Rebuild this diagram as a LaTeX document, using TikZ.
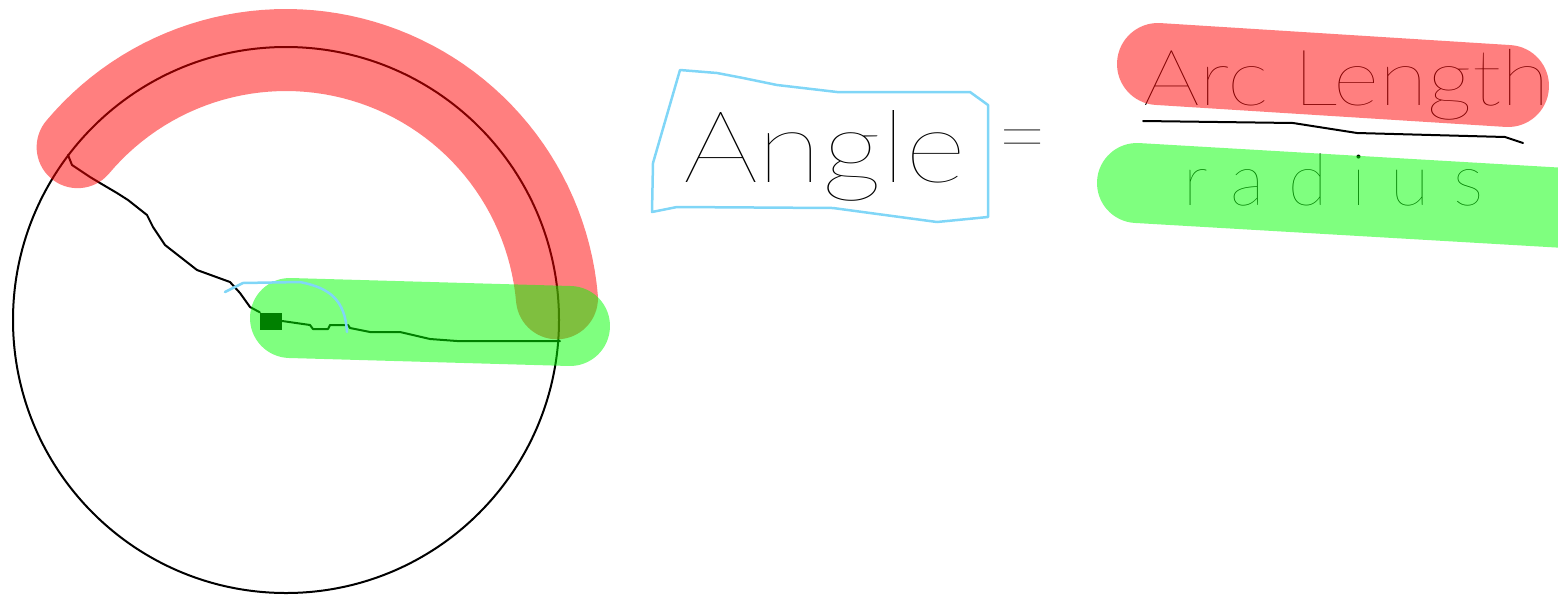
\documentclass[tikz,border=0pt]{standalone}
\usepackage{fontspec}
\IfFontExistsTF{Lato Thin}{\newfontfamily\handfont{Lato Thin}}{%
	\IfFontExistsTF{Fira Sans Light}{\newfontfamily\handfont{Fira Sans Light}}{\newfontfamily\handfont{Lato}}}
\begin{document}
\begin{tikzpicture}[x=1pt, y=-1pt, line join=round, line cap=round,
		ink/.style={line width=2pt, black},
		hlred/.style={line width=82pt, red, opacity=0.5},
		hlgreen/.style={line width=80pt, green, opacity=0.5},
		hlcyan/.style={line width=2.5pt, cyan!50}]
	\useasboundingbox (0,0) rectangle (1558,598);
	\draw[ink] (286,320) circle (273pt);
	\node[fill=black, inner sep=0pt, minimum width=22pt, minimum height=17pt] (ctr) at (271,321) {};
	\coordinate (tip) at (68,155);
	\coordinate (rim) at (560,341);
	\draw[ink] (tip)--(72,165)--(90,177)--(100,183)--(117,193)--(128,200)--(147,215)--(153,227)--(165,245)--(197,270)--(230,282)--(240,293)--(250,307)--(ctr.north west);
	\draw[ink] (ctr.east)--(310,325)--(313,329)--(328,329)--(330,325)--(348,325)--(350,328)--(370,332)--(400,332)--(430,339)--(457,341)--(rim);
	\node[font=\handfont\fontsize{78}{78}\selectfont, anchor=base west, inner sep=0pt, xscale=1.14, transform shape] (arc) at (1143,105) {Arc Length};
	\node[font=\handfont\fontsize{72}{72}\selectfont, anchor=base west, inner sep=0pt] (rad) at (1183,205) {\addfontfeature{LetterSpace=33}radius};
	\coordinate (barl) at (1143,121);
	\coordinate (barr) at (1523,143);
	\draw[ink] (barl)--(1293,123)--(1357,133)--(1505,137)--(barr);
	\draw[hlred, samples=60, domain=140:5, variable=\t] plot ({286+272*cos(\t)}, {322-272*sin(\t)});
	\draw[hlgreen] (290,318)--(570,326);
	\draw[hlred] (1158,64)--(1508,86);
	\draw[hlgreen] (1137,183)--(1600,210);
	\draw[hlcyan] (225,292)--(243,283)--(300,282) .. controls (330,288) and (345,300) .. (347,332);
	\node[font=\handfont\fontsize{100}{100}\selectfont, anchor=base west, inner sep=0pt, xscale=1.18, transform shape] (angle) at (683,182) {Angle};
	\draw[hlcyan] (680,70)--(717,73)--(743,78)--(777,85)--(837,92)--(970,92)--(988,105)--(988,217)--(937,222)--(870,213)--(833,208)--(677,207)--(652,212)--(653,163)--cycle;
	\node[font=\handfont\fontsize{90}{90}\selectfont, anchor=base, inner sep=0pt] (eq) at (1023,167) {=};
\end{tikzpicture}
\end{document}
